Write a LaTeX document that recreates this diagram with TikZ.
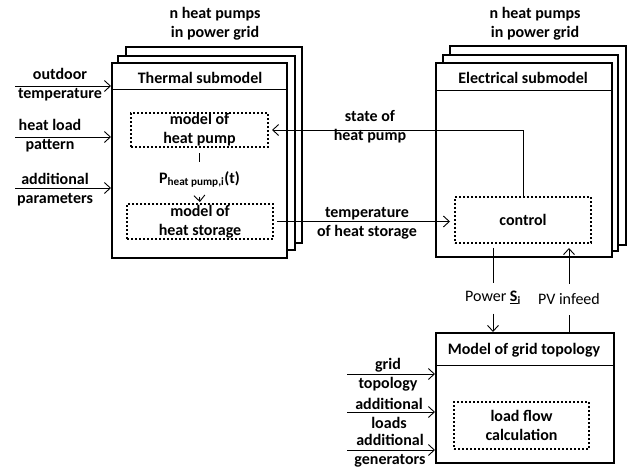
\documentclass[tikz,border=0pt]{standalone}
\usepackage{fontspec}
\setmainfont{Carlito}
\usetikzlibrary{arrows.meta}

\begin{document}
\begin{tikzpicture}[x=1pt,y=-1pt,
  frame/.style={draw=drawColor,fill=fillColor,line width=2pt,inner sep=0pt,outer sep=0pt},
  subbox/.style={draw=drawColor,line width=2pt,dash pattern=on 2pt off 2pt,inner sep=0pt,outer sep=0pt,align=center,text=drawColor,font=\fontsize{16}{19}\selectfont\bfseries},
  txt/.style={text=drawColor,inner sep=0pt,outer sep=0pt,align=center,font=\fontsize{16}{19}\selectfont\bfseries},
  plain/.style={text=drawColor,inner sep=0pt,outer sep=0pt,align=center,font=\fontsize{16}{19}\selectfont},
  wire/.style={draw=drawColor,line width=0.9pt},
  flow/.style={draw=drawColor,line width=0.9pt,-{Straight Barb[length=6pt,width=11pt]}}]
\definecolor{drawColor}{RGB}{0,0,0}
\definecolor{fillColor}{RGB}{255,255,255}
\path[use as bounding box,fill=fillColor] (0,0) rectangle (629,469);

% thermal submodel stack
\path[frame] (126, 47) rectangle (302,243);
\path[frame] (118, 56) rectangle (295,250);
\node[frame,minimum width=175pt,minimum height=195pt] (thermal) at (199.5,160.5) {};
\path[wire] ([yshift=-26pt]thermal.north west) -- ([yshift=-26pt]thermal.north east);
\node[txt] (thermalHead) at (200,78) {Thermal submodel};
\node[txt] (thermalTitle) at (215,24) {n heat pumps\\in power grid};

\node[subbox,minimum width=137pt,minimum height=34pt] (pump) at (199.5,130) {model of\\heat pump};
\node[subbox,minimum width=146pt,minimum height=35pt] (storage) at (200,221.5) {model of\\heat storage};
\node[txt,minimum height=35pt] (ppump) at (199.5,179.5) {P\textsubscript{heat pump,i}(t)};

% electrical submodel stack
\path[frame] (450, 46) rectangle (626,245);
\path[frame] (443, 55) rectangle (618,251);
\node[frame,minimum width=176pt,minimum height=194pt] (electrical) at (524,160) {};
\path[wire] ([yshift=-27pt]electrical.north west) -- ([yshift=-27pt]electrical.north east);
\node[txt] (electricalHead) at (523,78) {Electrical submodel};
\node[txt] (electricalTitle) at (535,24) {n heat pumps\\in power grid};

\node[subbox,minimum width=136pt,minimum height=46pt] (control) at (523,220) {control};

% grid topology
\node[frame,minimum width=178pt,minimum height=130pt] (grid) at (525,398) {};
\path[wire] ([yshift=-32pt]grid.north west) -- ([yshift=-32pt]grid.north east);
\node[txt] (gridHead) at (524,350) {Model of grid topology};
\node[subbox,minimum width=135pt,minimum height=47pt] (loadflow) at (521.5,425.5) {load flow\\calculation};

% inputs of the thermal submodel
\coordinate (outdoorIn) at (15, 86);
\coordinate (loadIn) at (15,137);
\coordinate (paramIn) at (15,188);
\node[txt] (outdoor) at (60, 84.5) {outdoor\\temperature};
\node[txt] (heatload) at (50,135.5) {heat load\\pattern};
\node[txt] (params) at (55,189.5) {additional\\parameters};
\path[flow,shorten >=1pt] (outdoorIn) -- (outdoorIn -| thermal.west);
\path[flow,shorten >=1pt] (loadIn) -- (loadIn -| thermal.west);
\path[flow,shorten >=1pt] (paramIn) -- (paramIn -| thermal.west);

% inputs of the grid model
\coordinate (topoIn) at (347,374);
\coordinate (loadsIn) at (347,412);
\coordinate (genIn) at (347,450);
\node[txt] (topo) at (388,375) {grid\\topology};
\node[txt] (loads) at (389,413) {additional\\loads};
\node[txt] (gens) at (390,451) {additional\\generators};
\path[flow,shorten >=1pt] (topoIn) -- (topoIn -| grid.west);
\path[flow,shorten >=1pt] (loadsIn) -- (loadsIn -| grid.west);
\path[flow,shorten >=1pt] (genIn) -- (genIn -| grid.west);

% exchange between the submodels
\path[wire,shorten <=6pt] (pump.south) -- (ppump.north);
\path[flow,shorten >=2pt] (ppump.south) -- (storage.north);
\path[flow,shorten >=4pt] (control.north) |- (pump.east);
\node[txt] (state) at (370,127) {state of\\heat pump};
\path[flow,shorten <=4pt,shorten >=5pt] (storage.east) -- (storage.east -| control.west);
\node[txt] (temp) at (367,223) {temperature\\of heat storage};

% exchange with the grid model
\node[plain,minimum height=31pt] (power) at (493,298) {Power \underline{\textbf{S}}\textsubscript{\textbf{i}}};
\node[plain,minimum height=31pt] (pv) at (569,299) {PV infeed};
\path[wire,shorten <=5pt] (power.north |- control.south) -- (power.north);
\path[flow,shorten >=1pt] (power.south) -- (power.south |- grid.north);
\path[wire] (pv.south |- grid.north) -- (pv.south);
\path[flow,shorten >=5pt] (pv.north) -- (pv.north |- control.south);
\end{tikzpicture}
\end{document}
